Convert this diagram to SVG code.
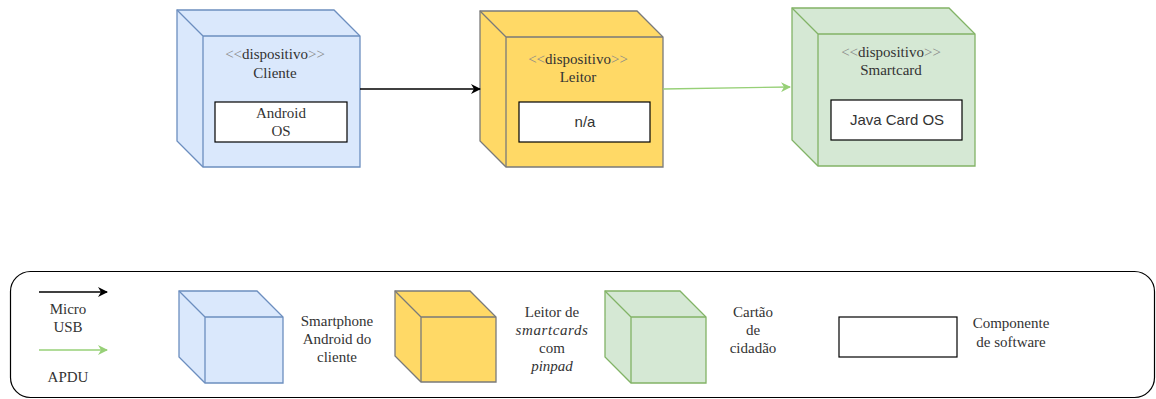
<svg xmlns="http://www.w3.org/2000/svg" width="1156" height="399" viewBox="0 0 1156 399">
<style>
.serif{font-family:"Liberation Serif","Times New Roman",serif;font-size:15px;fill:#333;text-anchor:middle}
.sans{font-family:"Liberation Sans",Arial,sans-serif;font-size:15px;fill:#333;text-anchor:middle}
.ster{fill:#888}
.blue{fill:#dae8fc;stroke:#6c8ebf;stroke-width:1.3}
.yellow{fill:#ffd966;stroke:#7a7a7a;stroke-width:1.3}
.green{fill:#d5e8d4;stroke:#82b366;stroke-width:1.3}
.edge{fill:none;stroke-linejoin:round}
.comp{fill:#fff;stroke:#000;stroke-width:1.2}
</style>
<defs>
<marker id="ab" viewBox="0 0 10 10" refX="9" refY="5" markerWidth="10" markerHeight="10" markerUnits="userSpaceOnUse" orient="auto">
<path d="M0,0 L10,5 L0,10 L3,5 Z" fill="#000"/>
</marker>
<marker id="ag" viewBox="0 0 10 10" refX="9" refY="5" markerWidth="10" markerHeight="10" markerUnits="userSpaceOnUse" orient="auto">
<path d="M0,0 L10,5 L0,10 L3,5 Z" fill="#97d077"/>
</marker>
</defs>

<g id="node-cliente">
<path class="blue" d="M177,10 L334,10 L360,36 L360,167 L203,167 L177,141 Z"/>
<path class="blue edge" d="M177,10 L203,36 L360,36 M203,36 L203,167"/>
<text class="serif" x="275" y="59"><tspan class="ster">&lt;&lt;</tspan>dispositivo<tspan class="ster">&gt;&gt;</tspan></text>
<text class="serif" x="275" y="78">Cliente</text>
<rect class="comp" x="215" y="102" width="132" height="40"/>
<text class="serif" x="281" y="118">Android</text>
<text class="serif" x="281" y="136">OS</text>
</g>

<g id="node-leitor">
<path class="yellow" d="M480,11 L637,11 L663,37 L663,167 L506,167 L480,141 Z"/>
<path class="yellow edge" d="M480,11 L506,37 L663,37 M506,37 L506,167"/>
<text class="serif" x="578" y="64"><tspan class="ster">&lt;&lt;</tspan>dispositivo<tspan class="ster">&gt;&gt;</tspan></text>
<text class="serif" x="578" y="82">Leitor</text>
<rect class="comp" x="519" y="102" width="131" height="40"/>
<text class="sans" x="585" y="127">n/a</text>
</g>

<g id="node-smartcard">
<path class="green" d="M792,8 L949,8 L975,34 L975,166 L818,166 L792,140 Z"/>
<path class="green edge" d="M792,8 L818,34 L975,34 M818,34 L818,166"/>
<text class="serif" x="891" y="57"><tspan class="ster">&lt;&lt;</tspan>dispositivo<tspan class="ster">&gt;&gt;</tspan></text>
<text class="serif" x="891" y="75">Smartcard</text>
<rect class="comp" x="831" y="100" width="131" height="40"/>
<text class="sans" x="897" y="125">Java Card OS</text>
</g>

<g id="connectors">
<line x1="360" y1="89" x2="480" y2="89" stroke="#000" stroke-width="1.3" marker-end="url(#ab)"/>
<line x1="663" y1="89" x2="790" y2="87" stroke="#97d077" stroke-width="1.3" marker-end="url(#ag)"/>
</g>

<g id="legend">
<rect x="10.5" y="271.5" width="1144" height="126" rx="20" ry="20" fill="none" stroke="#000" stroke-width="1.2"/>
<line x1="39" y1="292" x2="107" y2="292" stroke="#000" stroke-width="1.3" marker-end="url(#ab)"/>
<text class="serif" x="68" y="314">Micro</text>
<text class="serif" x="68" y="332">USB</text>
<line x1="39" y1="350" x2="107" y2="350" stroke="#97d077" stroke-width="1.3" marker-end="url(#ag)"/>
<text class="serif" x="68" y="382">APDU</text>

<g id="legend-blue">
<path class="blue" d="M179,291 L257,291 L283,317 L283,383 L205,383 L179,357 Z"/>
<path class="blue edge" d="M179,291 L205,317 L283,317 M205,317 L205,383"/>
</g>
<text class="serif" x="337" y="326">Smartphone</text>
<text class="serif" x="337" y="344">Android do</text>
<text class="serif" x="337" y="362">cliente</text>

<g id="legend-yellow">
<path class="yellow" d="M395,291 L470,291 L496,317 L496,382 L421,382 L395,356 Z"/>
<path class="yellow edge" d="M395,291 L421,317 L496,317 M421,317 L421,382"/>
</g>
<text class="serif" x="552" y="317">Leitor de</text>
<text class="serif" x="552" y="335" font-style="italic" letter-spacing="0.6">smartcards</text>
<text class="serif" x="552" y="353">com</text>
<text class="serif" x="552" y="371" font-style="italic">pinpad</text>

<g id="legend-green">
<path class="green" d="M605,291 L680,291 L706,317 L706,383 L631,383 L605,357 Z"/>
<path class="green edge" d="M605,291 L631,317 L706,317 M631,317 L631,383"/>
</g>
<text class="serif" x="753" y="317">Cartão</text>
<text class="serif" x="753" y="335">de</text>
<text class="serif" x="753" y="353">cidadão</text>

<rect id="legend-component" class="comp" x="839" y="317" width="118" height="40"/>
<text class="serif" x="1011" y="328">Componente</text>
<text class="serif" x="1011" y="347">de software</text>
</g>
</svg>
